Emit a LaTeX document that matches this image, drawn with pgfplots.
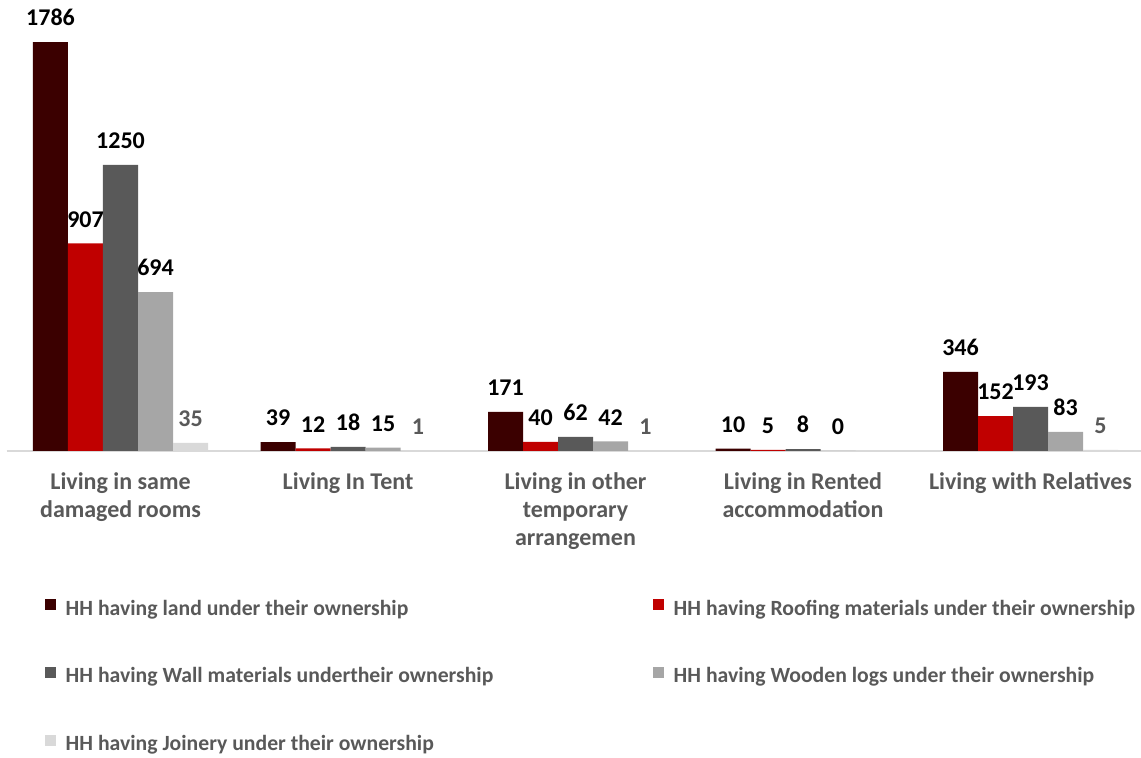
\documentclass[border=0pt]{standalone}
\usepackage{pgfplots}
\pgfplotsset{compat=1.18}
\usepackage{fontspec}
\setmainfont{Carlito}
\definecolor{cland}{HTML}{3B0000}
\definecolor{croof}{HTML}{C00000}
\definecolor{cwall}{HTML}{595959}
\definecolor{cwood}{HTML}{A6A6A6}
\definecolor{cjoin}{HTML}{D9D9D9}
\definecolor{ctext}{HTML}{595959}
\begin{document}
\begin{tikzpicture}
\begin{axis}[
  scale only axis,
  x=113.75pt, height=220.5pt,
  xmin=-0.5, xmax=4.485, ymin=0, ymax=1926,
  ybar=0pt, bar width=17.5pt,
  legend image code/.code={\fill[#1] (0pt,-0.75pt) rectangle (5.5pt,4.75pt);},
  axis y line=none, axis x line*=bottom,
  x axis line style={draw=cjoin, line width=0.8pt, -},
  xtick={0,1,2,3,4},
  xticklabels={{Living in same\\damaged rooms},{Living In Tent},{Living in other\\temporary\\arrangemen},{Living in Rented\\accommodation},{Living with Relatives}},
  major tick length=0pt,
  xticklabel style={align=center, text=ctext, font=\fontsize{12}{14}\selectfont\bfseries, yshift=-7.5pt},
  nodes near coords,
  nodes near coords style={font=\fontsize{12}{14}\selectfont\bfseries, text=black, yshift=4.5pt},
  /pgf/number format/.cd, assume math mode=true, 1000 sep={}, /pgfplots/.cd,
  legend columns=2,
  legend cell align=left,
  legend style={at={(0,0)}, anchor=north west, xshift=18.8pt, yshift=-74pt,
    draw=none, fill=none, inner sep=0pt, row sep=24.5pt,
    /tikz/every odd column/.style={column sep=5pt},
    nodes={inner sep=0pt, text=ctext, font=\fontsize{10.85}{12}\selectfont\bfseries}},
  clip=false,
]
\addplot[fill=cland, draw=none] coordinates {(0,1786) (1,39) (2,171) (3,10) (4,346)};
\addlegendentry{\makebox[293.5pt][l]{HH having land under their ownership}}
\addplot[fill=croof, draw=none] coordinates {(0,907) (1,12) (2,40) (3,5) (4,152)};
\addlegendentry{HH having Roofing materials under their ownership}
\addplot[fill=cwall, draw=none] coordinates {(0,1250) (1,18) (2,62) (3,8) (4,193)};
\addlegendentry{\makebox[293.5pt][l]{HH having Wall materials undertheir ownership}}
\addplot[fill=cwood, draw=none] coordinates {(0,694) (1,15) (2,42) (3,0) (4,83)};
\addlegendentry{HH having Wooden logs under their ownership}
\addplot[fill=cjoin, draw=none, every node near coord/.append style={text=ctext}] coordinates {(0,35) (1,1) (2,1) (4,5)};
\addlegendentry{\makebox[293.5pt][l]{HH having Joinery under their ownership}}
\coordinate (tl) at (rel axis cs:0,1);
\end{axis}
\pgfresetboundingbox
\path (tl) ++(-3.375pt,5pt) rectangle ++(570.5pt,-379pt);
\end{tikzpicture}
\end{document}
